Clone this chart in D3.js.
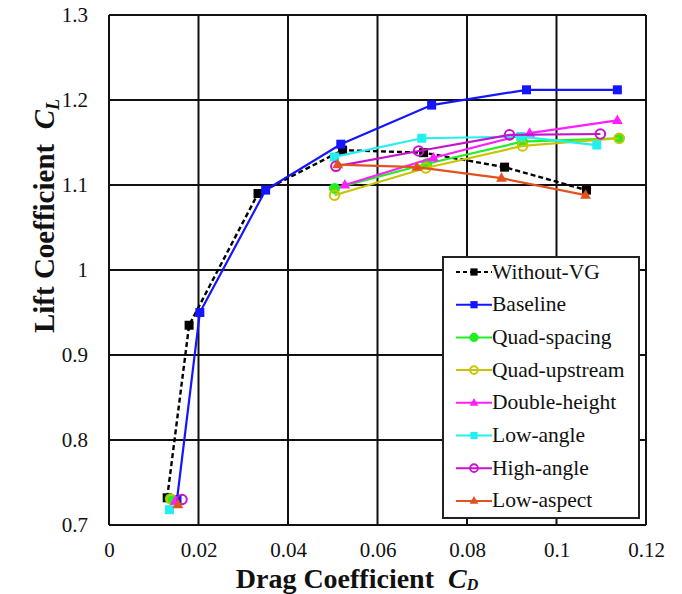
<!DOCTYPE html>
<html>
<head>
<meta charset="utf-8">
<script src="https://cdn.jsdelivr.net/npm/d3@7"></script>
<style>
  html, body { margin: 0; padding: 0; background: #fff; }
  svg { display: block; }
  text { font-family: "Liberation Serif", "Times New Roman", serif; fill: #111; }
</style>
</head>
<body>
<script>
// Drag coefficient (x) and lift coefficient (y) for each configuration.
// The first point of every series is the low-incidence case near CL = 0.73.
const seriesNames = ["Without-VG", "Baseline", "Quad-spacing", "Quad-upstream",
                     "Double-height", "Low-angle", "High-angle", "Low-aspect"];

const cdWithoutVG = [0.0130, 0.0179, 0.0333, 0.0522, 0.0703, 0.0884, 0.1067];
const clWithoutVG = [0.732, 0.935, 1.090, 1.141, 1.138, 1.121, 1.094];

const cdBaseline = [0.0152, 0.0203, 0.0350, 0.0518, 0.0721, 0.0933, 0.1136];
const clBaseline = [0.730, 0.950, 1.094, 1.148, 1.194, 1.212, 1.212];

const cdQuadSpacing = [0.0137, 0.0504, 0.0710, 0.0924, 0.1140];
const clQuadSpacing = [0.731, 1.096, 1.125, 1.151, 1.155];

const cdQuadUpstream = [0.0140, 0.0504, 0.0708, 0.0924, 0.1140];
const clQuadUpstream = [0.730, 1.088, 1.120, 1.146, 1.155];

const cdDoubleHeight = [0.0148, 0.0527, 0.0725, 0.0940, 0.1136];
const clDoubleHeight = [0.728, 1.100, 1.132, 1.161, 1.176];

const cdLowAngle = [0.0135, 0.0504, 0.0699, 0.0920, 0.1090];
const clLowAngle = [0.718, 1.133, 1.155, 1.157, 1.147];

const cdHighAngle = [0.0163, 0.0507, 0.0692, 0.0895, 0.1098];
const clHighAngle = [0.730, 1.122, 1.140, 1.159, 1.160];

const cdLowAspect = [0.0154, 0.0511, 0.0688, 0.0877, 0.1065];
const clLowAspect = [0.724, 1.124, 1.121, 1.108, 1.088];

const xTicks = [0, 0.02, 0.04, 0.06, 0.08, 0.1, 0.12];
const yTicks = [0.7, 0.8, 0.9, 1, 1.1, 1.2, 1.3];

// Series styling: colour, marker shape, filled or open, dashed, and
// the index from which the connecting line starts.
const series = [
  { name: seriesNames[0], cd: cdWithoutVG, cl: clWithoutVG, color: "#000000", shape: "square", fill: true, dash: "5,3", from: 0 },
  { name: seriesNames[1], cd: cdBaseline, cl: clBaseline, color: "#1515ff", shape: "square", fill: true, dash: null, from: 0 },
  { name: seriesNames[2], cd: cdQuadSpacing, cl: clQuadSpacing, color: "#22ee22", shape: "circle", fill: true, dash: null, from: 1 },
  { name: seriesNames[3], cd: cdQuadUpstream, cl: clQuadUpstream, color: "#c8c400", shape: "circle", fill: false, dash: null, from: 1 },
  { name: seriesNames[4], cd: cdDoubleHeight, cl: clDoubleHeight, color: "#ff1eff", shape: "triangle", fill: true, dash: null, from: 1 },
  { name: seriesNames[5], cd: cdLowAngle, cl: clLowAngle, color: "#22f0f0", shape: "square", fill: true, dash: null, from: 1 },
  { name: seriesNames[6], cd: cdHighAngle, cl: clHighAngle, color: "#c814c8", shape: "circle", fill: false, dash: null, from: 1 },
  { name: seriesNames[7], cd: cdLowAspect, cl: clLowAspect, color: "#e2521e", shape: "triangle", fill: true, dash: null, from: 1 }
];

const W = 682, H = 594;
const svg = d3.select("body").append("svg").attr("width", W).attr("height", H);

const x = d3.scaleLinear().domain([0, 0.12]).range([109, 646]);
const y = d3.scaleLinear().domain([0.7, 1.3]).range([525, 15]);

// Grid
const grid = svg.append("g");
grid.selectAll("line.v").data(xTicks).join("line")
  .attr("x1", d => x(d)).attr("x2", d => x(d))
  .attr("y1", y(1.3)).attr("y2", y(0.7))
  .attr("stroke", "#111").attr("stroke-width", 2);
grid.selectAll("line.h").data(yTicks).join("line")
  .attr("x1", x(0)).attr("x2", x(0.12))
  .attr("y1", d => y(d)).attr("y2", d => y(d))
  .attr("stroke", "#111").attr("stroke-width", 2);

// Axes (labels only; the grid provides the lines)
const xAxis = d3.axisBottom(x).tickValues(xTicks).tickSize(0).tickPadding(17)
  .tickFormat(d => String(+d.toFixed(2)));
svg.append("g").attr("transform", `translate(0,${y(0.7)})`).call(xAxis)
  .call(g => g.select(".domain").remove())
  .call(g => g.selectAll("text").attr("font-size", 21).attr("font-family", "Liberation Serif").attr("fill", "#222"));

const yAxis = d3.axisLeft(y).tickValues(yTicks).tickSize(0).tickPadding(21)
  .tickFormat(d => String(+d.toFixed(1)));
svg.append("g").attr("transform", `translate(${x(0)},0)`).call(yAxis)
  .call(g => g.select(".domain").remove())
  .call(g => g.selectAll("text").attr("font-size", 21).attr("font-family", "Liberation Serif").attr("fill", "#222"));

// Axis titles
const xt = svg.append("text").attr("x", 357).attr("y", 588)
  .attr("text-anchor", "middle").attr("font-size", 28).attr("font-weight", "bold");
xt.append("tspan").text("Drag Coefficient\u00a0\u00a0");
xt.append("tspan").attr("font-style", "italic").text("C");
xt.append("tspan").attr("font-style", "italic").attr("font-size", 16).attr("dy", 2).text("D");

const yt = svg.append("text").attr("transform", "translate(54,216) rotate(-90)")
  .attr("text-anchor", "middle").attr("font-size", 29).attr("font-weight", "bold");
yt.append("tspan").text("Lift Coefficient\u00a0\u00a0");
yt.append("tspan").attr("font-style", "italic").text("C");
yt.append("tspan").attr("font-style", "italic").attr("font-size", 18).attr("dy", 5).text("L");

// Marker drawing
function marker(g, shape, color, fill, size) {
  const s = size || 1;
  if (shape === "square") {
    g.append("rect").attr("x", -4.5 * s).attr("y", -4.5 * s).attr("width", 9 * s).attr("height", 9 * s)
      .attr("fill", color);
  } else if (shape === "circle") {
    g.append("circle").attr("r", fill ? 4.5 * s : 4.8 * s)
      .attr("fill", fill ? color : "none").attr("stroke", color).attr("stroke-width", 2);
  } else {
    const r = 6 * s;
    g.append("path").attr("d", `M0,${-r} L${r * 0.9},${r * 0.6} L${-r * 0.9},${r * 0.6} Z`)
      .attr("fill", color);
  }
}

// Series lines and markers
const plot = svg.append("g");
series.forEach(s => {
  const pts = s.cd.map((cd, i) => ({ cd, cl: s.cl[i], i }));
  const line = d3.line().x(d => x(d.cd)).y(d => y(d.cl));
  plot.append("path").datum(pts.filter(p => p.i >= s.from))
    .attr("d", line).attr("fill", "none")
    .attr("stroke", s.color).attr("stroke-width", s.dash ? 2.4 : 2.2)
    .attr("stroke-dasharray", s.dash);
  pts.forEach(p => {
    const g = plot.append("g").attr("transform", `translate(${x(p.cd)},${y(p.cl)})`);
    marker(g, s.shape, s.color, s.fill);
  });
});

// Legend
const lg = svg.append("g");
lg.append("rect").attr("x", 443).attr("y", 257).attr("width", 196).attr("height", 261)
  .attr("fill", "#fff").attr("stroke", "#222").attr("stroke-width", 2);
series.forEach((s, i) => {
  const cy = 272 + i * 32.7;
  const row = lg.append("g");
  row.append("line").attr("x1", 456).attr("x2", 492).attr("y1", cy).attr("y2", cy)
    .attr("stroke", s.color).attr("stroke-width", 2).attr("stroke-dasharray", s.dash ? "4,3" : null);
  const m = row.append("g").attr("transform", `translate(474,${cy})`);
  marker(m, s.shape, s.color, s.fill, 0.8);
  row.append("text").attr("x", 492).attr("y", cy + 6.5).attr("font-size", 21.5).attr("fill", "#222").text(s.name);
});
</script>
</body>
</html>
